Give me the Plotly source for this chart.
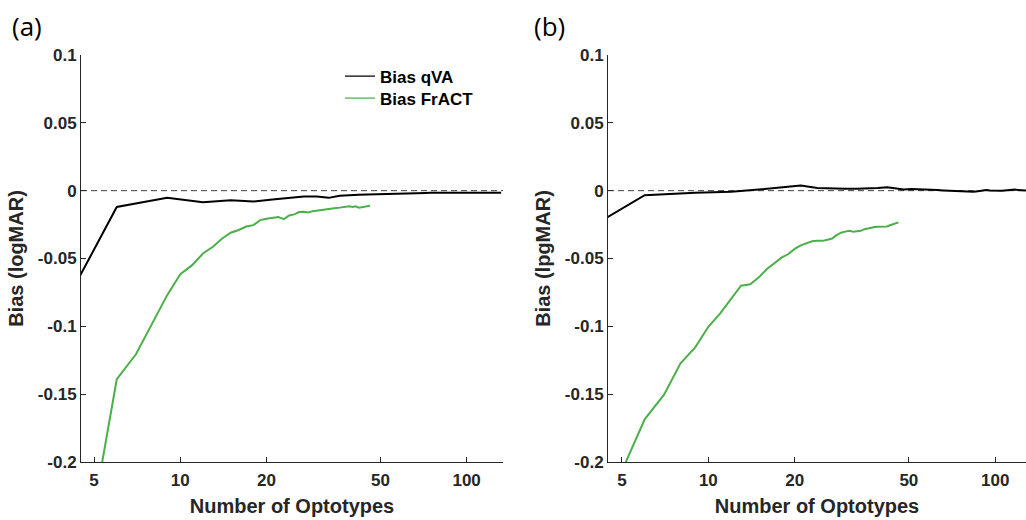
import numpy as np
import plotly.graph_objects as go

# qVA bias sampled every 3 optotypes
n_qva = [3, 6, 9, 12, 15, 18, 21, 24, 27, 30, 33, 36, 39, 42, 45, 48, 51, 54, 57, 60,
         63, 66, 69, 72, 75, 78, 81, 84, 87, 90, 93, 96, 99, 102, 105, 108, 111, 114,
         117, 120, 123, 126, 129, 132]
qva_a = [-0.131, -0.012, -0.0053, -0.0085, -0.007, -0.008, -0.0065, -0.0055, -0.0043,
         -0.0043, -0.0053, -0.0038, -0.0031, -0.003, -0.0028, -0.0026, -0.0025, -0.0022,
         -0.002, -0.0018, -0.0016, -0.0016, -0.0016, -0.0017, -0.0016, -0.0015, -0.0016,
         -0.0017, -0.0016, -0.0016, -0.0015, -0.0016, -0.0017, -0.0016, -0.0015, -0.0016,
         -0.0017, -0.0016, -0.0016, -0.0015, -0.0016, -0.0016, -0.0015, -0.0015]
qva_b = [-0.041, -0.0033, -0.0015, -0.0008, 0.0008, 0.0025, 0.0038, 0.002, 0.0015,
         0.0014, 0.0015, 0.0016, 0.002, 0.0026, 0.0015, 0.0008, 0.0012, 0.0011, 0.0009,
         0.0006, 0.0004, 0.0002, 0.0, -0.0001, -0.0003, -0.0006, -0.0009, -0.0008,
         -0.0004, 0.0002, 0.0004, 0.0001, -0.0001, -0.0001, -0.0001, 0.0002, 0.0005,
         0.0008, 0.0009, 0.0004, 0.0002, 0.0, 0.0, 0.0]

# FrACT bias, one value per optotype count
n_fract = list(range(5, 47))
fract_a = [-0.234, -0.139, -0.1206, -0.0976, -0.077, -0.0615, -0.0549, -0.0463, -0.0414,
           -0.0352, -0.031, -0.029, -0.0264, -0.0254, -0.0217, -0.0207, -0.02, -0.0195,
           -0.021, -0.0183, -0.0175, -0.0158, -0.0156, -0.016, -0.0151, -0.0146, -0.0141,
           -0.0136, -0.0131, -0.0131, -0.0127, -0.0125, -0.0122, -0.012, -0.0115, -0.012,
           -0.0115, -0.0125, -0.0124, -0.0119, -0.0114, -0.0112]
fract_b = [-0.2065, -0.1685, -0.1506, -0.1273, -0.1155, -0.1003, -0.0904, -0.0801, -0.0701,
           -0.069, -0.0639, -0.0578, -0.0535, -0.0494, -0.0467, -0.0429, -0.0403, -0.0387,
           -0.0373, -0.037, -0.037, -0.0362, -0.0353, -0.0328, -0.031, -0.0302, -0.0296,
           -0.0302, -0.03, -0.0296, -0.0284, -0.0277, -0.0272, -0.0268, -0.0266, -0.0266,
           -0.0266, -0.0264, -0.0255, -0.0246, -0.0238, -0.0234]

y_ticks = [0.1, 0.05, 0, -0.05, -0.1, -0.15, -0.2]
y_labels = ["0.1", "0.05", "0", "-0.05", "-0.1", "-0.15", "-0.2"]
x_ticks = [5, 10, 20, 50, 100]
x_labels = ["5", "10", "20", "50", "100"]

GREEN = "#4daf4a"
INK = "#262626"
W, H = 1026, 520

fig = go.Figure()
fig.add_trace(go.Scatter(x=n_qva, y=qva_a, mode="lines", showlegend=False,
                         line=dict(color="black", width=2), xaxis="x", yaxis="y"))
fig.add_trace(go.Scatter(x=n_fract, y=fract_a, mode="lines", showlegend=False,
                         line=dict(color=GREEN, width=2), xaxis="x", yaxis="y"))
fig.add_trace(go.Scatter(x=n_qva, y=qva_b, mode="lines", showlegend=False,
                         line=dict(color="black", width=2), xaxis="x2", yaxis="y2"))
fig.add_trace(go.Scatter(x=n_fract, y=fract_b, mode="lines", showlegend=False,
                         line=dict(color=GREEN, width=2), xaxis="x2", yaxis="y2"))
# legend entries drawn with thinner sample lines, as in the original
for name, col, lg in (("Bias qVA", "black", "legend"), ("Bias FrACT", GREEN, "legend2")):
    fig.add_trace(go.Scatter(x=[None], y=[None], mode="lines", name=name, legend=lg,
                             line=dict(color=col, width=1.2), xaxis="x", yaxis="y"))

tick_font = dict(family="Liberation Sans", size=17, color=INK, weight="bold")
title_font = dict(family="Liberation Sans", size=20, color=INK, weight="bold")
legend_font = dict(family="Liberation Sans", size=17, color="black", weight="bold")

def xax(domain, rng, anchor):
    return dict(type="log", domain=domain, range=[np.log10(rng[0]), np.log10(rng[1])],
                anchor=anchor, showline=True, linecolor=INK, linewidth=1, automargin=False,
                ticks="inside", ticklen=5, tickcolor=INK, tickvals=x_ticks,
                ticktext=x_labels, tickfont=tick_font, showgrid=False, zeroline=False,
                ticklabelstandoff=3,
                title=dict(text="Number of Optotypes", font=title_font, standoff=9))

def yax(domain, anchor, title):
    return dict(domain=domain, range=[-0.2, 0.1], anchor=anchor, showline=True,
                linecolor=INK, linewidth=1, ticks="inside", ticklen=5, tickcolor=INK,
                automargin=False, tickvals=y_ticks, ticktext=y_labels, tickfont=tick_font,
                showgrid=False, zeroline=False,
                title=dict(text=title, font=title_font, standoff=8))

def leg(top):
    return dict(x=340 / W, y=1 - top / H, xanchor="left", yanchor="top",
                bgcolor="rgba(0,0,0,0)", itemwidth=30, font=legend_font)

ydom = [1 - 462 / H, 1 - 55 / H]
fig.update_layout(
    width=W, height=H, margin=dict(l=0, r=0, t=0, b=0, autoexpand=False),
    paper_bgcolor="white", plot_bgcolor="white",
    xaxis=xax([81 / W, 503 / W], (4.5, 134), "y"),
    yaxis=yax(ydom, "x", "Bias (logMAR)"),
    xaxis2=xax([608 / W, 1.0], (4.47, 128), "y2"),
    yaxis2=yax(ydom, "x2", "Bias (lpgMAR)"),
    legend=leg(58.5),
    legend2=leg(80.5),
    showlegend=True,
)

for xr in ("x", "x2"):
    yr = "y" if xr == "x" else "y2"
    fig.add_shape(type="line", xref=xr + " domain", yref=yr, x0=0, x1=1, y0=0, y1=0,
                  line=dict(color="#404040", width=1, dash="6px,4px"), layer="below")

for label, xpos in (("(a)", 10), ("(b)", 532)):
    fig.add_annotation(text=label, xref="paper", yref="paper", x=xpos / W, y=1 - 26 / H,
                       xanchor="left", yanchor="middle", showarrow=False,
                       font=dict(family="Open Sans", size=26, color="black"))

fig.write_html("out.html", config={"displayModeBar": False},
               post_script="document.body.style.margin='0';")
